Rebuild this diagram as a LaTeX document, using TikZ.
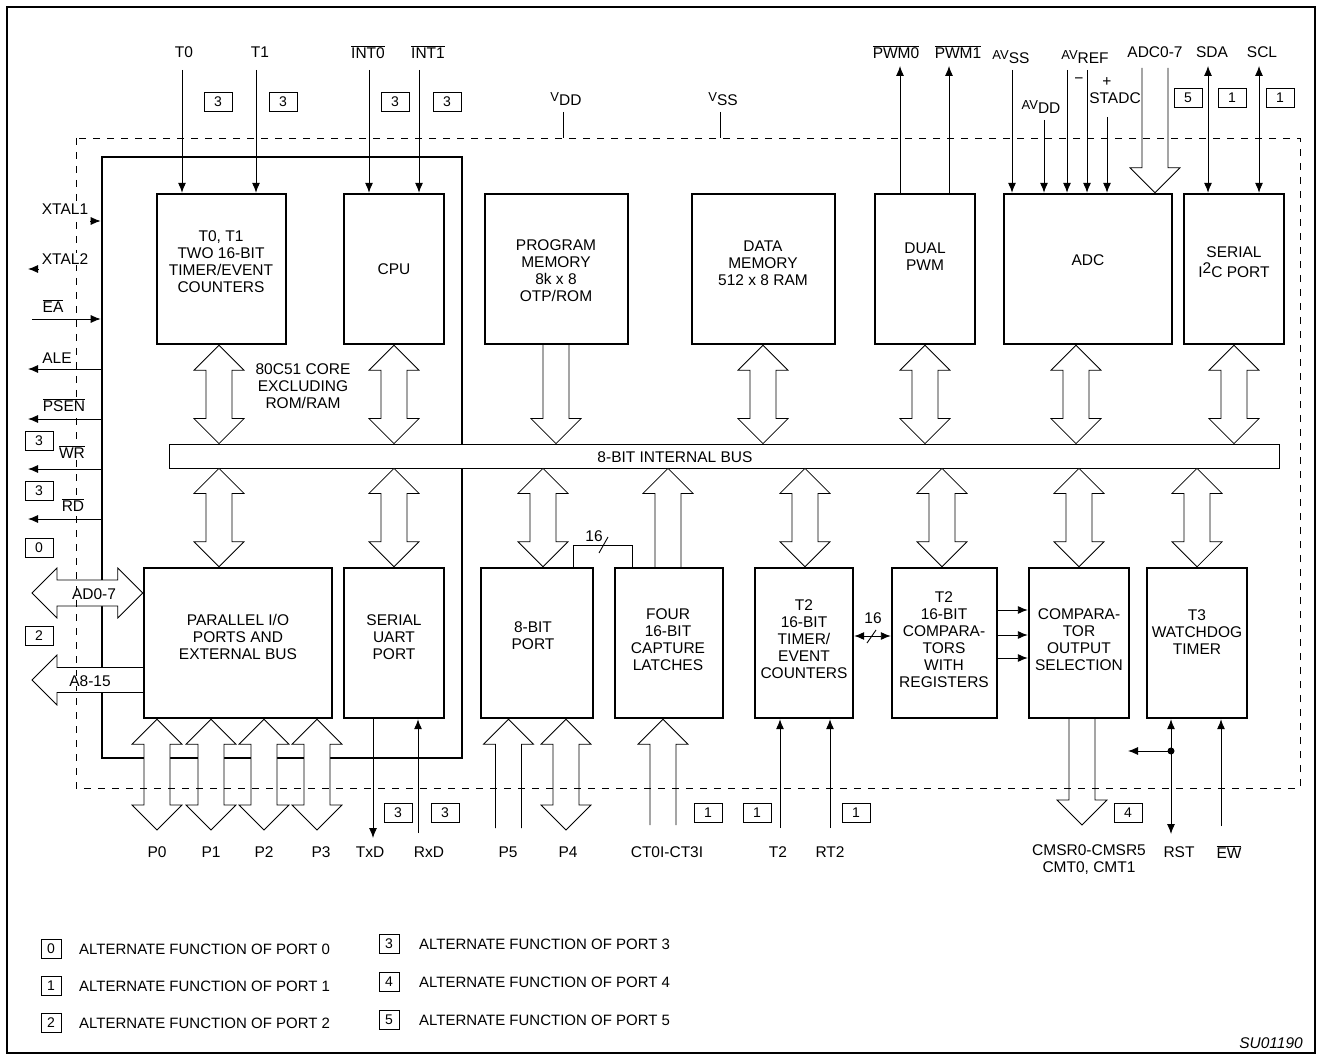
\documentclass[tikz,border=0pt]{standalone}
\usepackage{fontspec}
\setmainfont{Liberation Sans}
\usetikzlibrary{arrows.meta,calc}

\tikzset{
  blok/.style={draw, line width=2.4pt, inner sep=0pt, fill=white},
  yazi/.style={align=center, inner sep=1pt, font=\fontsize{15.5}{17}\selectfont},
  etiket/.style={yazi, fill=white},
  kutu/.style={draw, line width=0.7pt, minimum width=28, minimum height=19, inner sep=0pt, font=\fontsize{14}{14}\selectfont},
  kalin/.style={draw, line width=0.8pt, fill=white},
  sinyal/.style={line width=0.9pt, -{Latex[length=10pt,width=8pt]}},
  cift/.style={line width=0.9pt, {Latex[length=10pt,width=8pt]}-{Latex[length=10pt,width=8pt]}},
}
\newcommand{\ovl}[1]{$\overline{\mbox{#1}}$}
\newcommand{\altsim}[2]{{\fontsize{13}{13}\selectfont\raisebox{.5ex}{#1}}#2}

% Kalın oklar: x, üst nokta, alt nokta
\newcommand{\kalinCift}[3]{%
  \path[kalin] let \p1=(#2), \p2=(#3) in
    (#1*1pt,\y1) -- ++(25pt,-25pt) -- ++(-12pt,0pt) -- (#1*1pt+13pt,\y2+25pt)
    -- ++(12pt,0pt) -- (#1*1pt,\y2) -- ++(-25pt,25pt) -- ++(12pt,0pt)
    -- (#1*1pt-13pt,\y1-25pt) -- ++(-12pt,0pt) -- cycle;}
\newcommand{\kalinAsagi}[3]{%
  \path[kalin] let \p1=(#2), \p2=(#3) in
    (#1*1pt-13pt,\y1) -- (#1*1pt-13pt,\y2+25pt) -- ++(-12pt,0pt) -- (#1*1pt,\y2)
    -- (#1*1pt+25pt,\y2+25pt) -- ++(-12pt,0pt) -- (#1*1pt+13pt,\y1);}
\newcommand{\kalinYukari}[3]{%
  \path[kalin] let \p1=(#2), \p2=(#3) in
    (#1*1pt-13pt,\y2) -- (#1*1pt-13pt,\y1-25pt) -- ++(-12pt,0pt) -- (#1*1pt,\y1)
    -- (#1*1pt+25pt,\y1-25pt) -- ++(-12pt,0pt) -- (#1*1pt+13pt,\y2);}

\begin{document}
\begin{tikzpicture}[x=1pt, y=-1pt]
\useasboundingbox (0,0) rectangle (1320,1056);

% Dış çerçeve ve 80C51 çekirdeği
\draw[line width=2pt] (7,7) rectangle (1315,1053);
\node[draw, line width=2.6pt, minimum width=360, minimum height=601, inner sep=0pt] (core) at (282,457.5) {};
\node[yazi] (coretxt) at (303,386) {80C51 CORE\\EXCLUDING\\ROM/RAM};

% İç veri yolu
\node[draw, line width=0.8pt, fill=white, minimum width=1110, minimum height=24, inner sep=0pt] (bus) at (724,456) {};
\node[yazi] (bustxt) at (675,457) {8-BIT INTERNAL BUS};

% Bloklar
\foreach \ad/\xp/\w in {tmr/221.5/129, cpu/394/100, pmem/556.5/143, dmem/763.5/143, pwm/925/100, adc/1088/168, iic/1234/100}
  \node[blok, minimum width=\w, minimum height=150] (\ad) at (\xp,269) {};
\foreach \ad/\xp/\w in {pio/238/188, uart/394/100, port8/537/112, cap/669/108, t2/804/98, cmp/944.5/105, sel/1079/100, wdt/1197/100}
  \node[blok, minimum width=\w, minimum height=150] (\ad) at (\xp,643) {};

\node[yazi] (tmrtxt) at (221,262) {T0, T1\\TWO 16-BIT\\TIMER/EVENT\\COUNTERS};
\node[yazi] (cputxt) at (394,269) {CPU};
\node[yazi] (pmemtxt) at (556,271) {PROGRAM\\MEMORY\\8k x 8\\OTP/ROM};
\node[yazi] (dmemtxt) at (763,263) {DATA\\MEMORY\\512 x 8 RAM};
\node[yazi] (pwmtxt) at (925,257) {DUAL\\PWM};
\node[yazi] (adctxt) at (1088,260) {ADC};
\node[yazi] (iictxt) at (1234,262) {SERIAL\\[3pt]I\raisebox{.45ex}{2}C PORT};
\node[yazi] (piotxt) at (238,637) {PARALLEL I/O\\PORTS AND\\EXTERNAL BUS};
\node[yazi] (uarttxt) at (394,637) {SERIAL\\UART\\PORT};
\node[yazi] (port8txt) at (533,636) {8-BIT\\PORT};
\node[yazi] (captxt) at (668,640) {FOUR\\16-BIT\\CAPTURE\\LATCHES};
\node[yazi] (t2txt) at (804,639) {T2\\16-BIT\\TIMER/\\EVENT\\COUNTERS};
\node[yazi] (cmptxt) at (944,640) {T2\\16-BIT\\COMPARA-\\TORS\\WITH\\REGISTERS};
\node[yazi] (seltxt) at (1079,640) {COMPARA-\\TOR\\OUTPUT\\SELECTION};
\node[yazi] (wdttxt) at (1197,632) {T3\\WATCHDOG\\TIMER};

% Veri yoluna kalın oklar
\foreach \xp/\ad in {219/tmr, 394/cpu, 763/dmem, 925/pwm, 1076/adc, 1234/iic}
  {\kalinCift{\xp}{\ad.south}{bus.north}}
\kalinAsagi{556}{pmem.south}{bus.north}
\foreach \xp/\ad in {219/pio, 394/uart, 543/port8, 805/t2, 942/cmp, 1079/sel, 1197/wdt}
  {\kalinCift{\xp}{bus.south}{\ad.north}}
\kalinYukari{668}{bus.south}{cap.north}

% Port okları (alt)
\foreach \xp/\lx/\pn in {157/157/P0, 211/211/P1, 264/264/P2, 317/321/P3} {
  \coordinate (\pn) at (\xp,830);
  \kalinCift{\xp}{pio.south}{\pn}
  \node[yazi] (l\pn) at (\lx,852) {\pn};
}
\coordinate (p4) at (566,830);
\coordinate (p5) at (508.5,828);
\coordinate (ct) at (663,825);
\kalinCift{566}{port8.south}{p4}
\kalinYukari{508.5}{port8.south}{p5}
\kalinYukari{663}{cap.south}{ct}
\coordinate (adcin) at (1155,68);
\kalinAsagi{1155}{adcin}{adc.north}
\coordinate (cmsr) at (1082,825);
\kalinAsagi{1082}{sel.south}{cmsr}

% AD0-7 ve A8-15
\coordinate (ad) at (32,593);
\coordinate (ahi) at (32,680);
\path[kalin] let \p1=(ad), \p2=(pio.west |- ad) in
  (\p1) -- (\x1+25pt,\y1+25pt) -- (\x1+25pt,\y1+13pt) -- (\x2-25pt,\y1+13pt) -- (\x2-25pt,\y1+25pt)
  -- (\p2) -- (\x2-25pt,\y1-25pt) -- (\x2-25pt,\y1-13pt) -- (\x1+25pt,\y1-13pt) -- (\x1+25pt,\y1-25pt) -- cycle;
\path[kalin] let \p1=(ahi), \p2=(pio.west |- ahi) in
  (\x2,\y1+12.5pt) -- (\x1+25pt,\y1+12.5pt) -- (\x1+25pt,\y1+25pt) -- (\p1)
  -- (\x1+25pt,\y1-25pt) -- (\x1+25pt,\y1-12.5pt) -- (\x2,\y1-12.5pt);

% Kesikli sınır
\draw[dash pattern=on 7pt off 7pt, line width=0.8pt] (76,138) rectangle (1300,788);
\draw[line width=0.8pt] (563,112) -- (563,138);
\draw[line width=0.8pt] (720,112) -- (720,138);
\node[yazi] (vdd) at (566,99) {\altsim{V}{DD}};
\node[yazi] (vss) at (723,99) {\altsim{V}{SS}};
\node[etiket, inner sep=0pt] (lad) at (94,594) {AD0-7};
\node[etiket, inner sep=0pt] (lahi) at (90,681) {A8-15};

% Üst sinyaller
\foreach \xp/\lx/\tx in {182/184/T0, 256/260/T1, 369/368/\ovl{INT0}, 419/428/\ovl{INT1}} {
  \coordinate (in\xp) at (\xp,70);
  \draw[sinyal] (in\xp) -- (in\xp |- tmr.north);
  \node[yazi] (lt\xp) at (\lx,52) {\tx};
}
\foreach \xp/\lx/\tx in {900/896/\ovl{PWM0}, 949/958/\ovl{PWM1}} {
  \coordinate (out\xp) at (\xp,66);
  \draw[sinyal] (out\xp |- pwm.north) -- (out\xp);
  \node[yazi] (lo\xp) at (\lx,52) {\tx};
}
\foreach \xp/\yp in {1012/70, 1044/120, 1067/70, 1087/70, 1107/117} {
  \coordinate (a\xp) at (\xp,\yp);
  \draw[sinyal] (a\xp) -- (a\xp |- adc.north);
}
\node[yazi] (lavss) at (1011,57) {\altsim{AV}{SS}};
\node[yazi] (lavdd) at (1041,107) {\altsim{AV}{DD}};
\node[yazi] (lavref) at (1085,57) {\altsim{AV}{REF}};
\node[yazi] (lminus) at (1079,81) {−};
\node[yazi] (lplus) at (1107,82) {+};
\node[yazi] (lstadc) at (1115,98) {STADC};
\node[yazi] (ladc) at (1155,52) {ADC0-7};
\foreach \xp/\lx/\tx in {1208/1212/SDA, 1259/1262/SCL} {
  \coordinate (s\xp) at (\xp,66);
  \draw[cift] (s\xp) -- (s\xp |- iic.north);
  \node[yazi] (ls\xp) at (\lx,52) {\tx};
}

% Sol sinyaller
\draw[sinyal] (90,221) -- (core.west |- 0,221);
\draw[sinyal] (38,269) -- (28,269);
\draw[sinyal] (32,319) -- (core.west |- 0,319);
\foreach \yp in {369,419,469,519}
  \draw[sinyal] (core.west |- 0,\yp) -- (28,\yp);
\node[etiket] (lx1) at (65,209) {XTAL1};
\node[etiket] (lx2) at (65,259) {XTAL2};
\node[etiket] (lea) at (53,306) {\ovl{EA}};
\node[etiket] (lale) at (57,358) {ALE};
\node[etiket] (lpsen) at (64,405) {\ovl{PSEN}};
\node[etiket] (lwr) at (72,452) {\ovl{WR}};
\node[etiket] (lrd) at (73,505) {\ovl{RD}};

% Alt sinyaller
\coordinate (txd) at (373,838);
\coordinate (rxd) at (418,833);
\draw[sinyal] (txd |- uart.south) -- (txd);
\draw[sinyal] (rxd) -- (rxd |- uart.south);
\foreach \xp in {780,830} {
  \coordinate (t\xp) at (\xp,828);
  \draw[sinyal] (t\xp) -- (t\xp |- t2.south);
}
\coordinate (rst) at (1171,834);
\coordinate (rstdot) at (1171,751);
\coordinate (ew) at (1221,826);
\draw[cift] (rst |- wdt.south) -- (rst);
\fill (rstdot) circle (3.5pt);
\draw[sinyal] (rstdot) -- ++(-43,0);
\draw[sinyal] (ew) -- (ew |- wdt.south);
\node[yazi] (ltxd) at (370,852) {TxD};
\node[yazi] (lrxd) at (429,852) {RxD};
\node[yazi] (lp5) at (508,852) {P5};
\node[yazi] (lp4) at (568,852) {P4};
\node[yazi] (lct) at (667,852) {CT0I-CT3I};
\node[yazi] (lt2) at (778,852) {T2};
\node[yazi] (lrt2) at (830,852) {RT2};
\node[yazi] (lcmsr) at (1089,860) {CMSR0-CMSR5\\CMT0, CMT1};
\node[yazi] (lrst) at (1179,852) {RST};
\node[yazi] (lew) at (1229,852) {\ovl{EW}};

% 16 bitlik bağlantılar
\draw[line width=0.9pt] ($(port8.north)+(36,0)$) |- ($(cap.north)+(-37,-21)$) -- ($(cap.north)+(-37,0)$);
\draw[line width=0.9pt] (599,553) -- (608,537);
\node[yazi] (l16a) at (594,536) {16};
\draw[cift] ($(t2.east)+(0,-7)$) -- ($(cmp.west)+(0,-7)$);
\draw[line width=0.9pt] (867,643) -- (876,630);
\node[yazi] (l16b) at (873,618) {16};
\foreach \dy in {-33,-8,15}
  \draw[sinyal] ($(cmp.east)+(0,\dy)$) -- ($(sel.west)+(0,\dy)$);

% Alternatif fonksiyon kutuları
\foreach \xp/\yp/\nm [count=\i] in {218/102/3, 283/102/3, 395/102/3, 447/102/3, 1188/98/5, 1232/98/1, 1280/98/1, 39/441/3, 39/491/3, 39/548/0, 39/636/2, 398/813/3, 445/813/3, 708/813/1, 757/813/1, 856/813/1, 1128/813/4}
  \node[kutu] (k\i) at (\xp,\yp) {\nm};

% Açıklamalar
\foreach \nm/\yp in {0/949, 1/986, 2/1023} {
  \node[kutu, minimum width=20] (lk\nm) at (51,\yp) {\nm};
  \node[yazi, anchor=west, font=\fontsize{15}{16}\selectfont] (la\nm) at (78,\yp) {ALTERNATE FUNCTION OF PORT \nm};
}
\foreach \nm/\yp in {3/944, 4/982, 5/1020} {
  \node[kutu, minimum width=20] (lk\nm) at (389,\yp) {\nm};
  \node[yazi, anchor=west, font=\fontsize{15}{16}\selectfont] (la\nm) at (418,\yp) {ALTERNATE FUNCTION OF PORT \nm};
}
\node[yazi, anchor=east, font=\fontsize{15.5}{17}\selectfont\itshape] (su) at (1304,1043) {SU01190};
\end{tikzpicture}
\end{document}
